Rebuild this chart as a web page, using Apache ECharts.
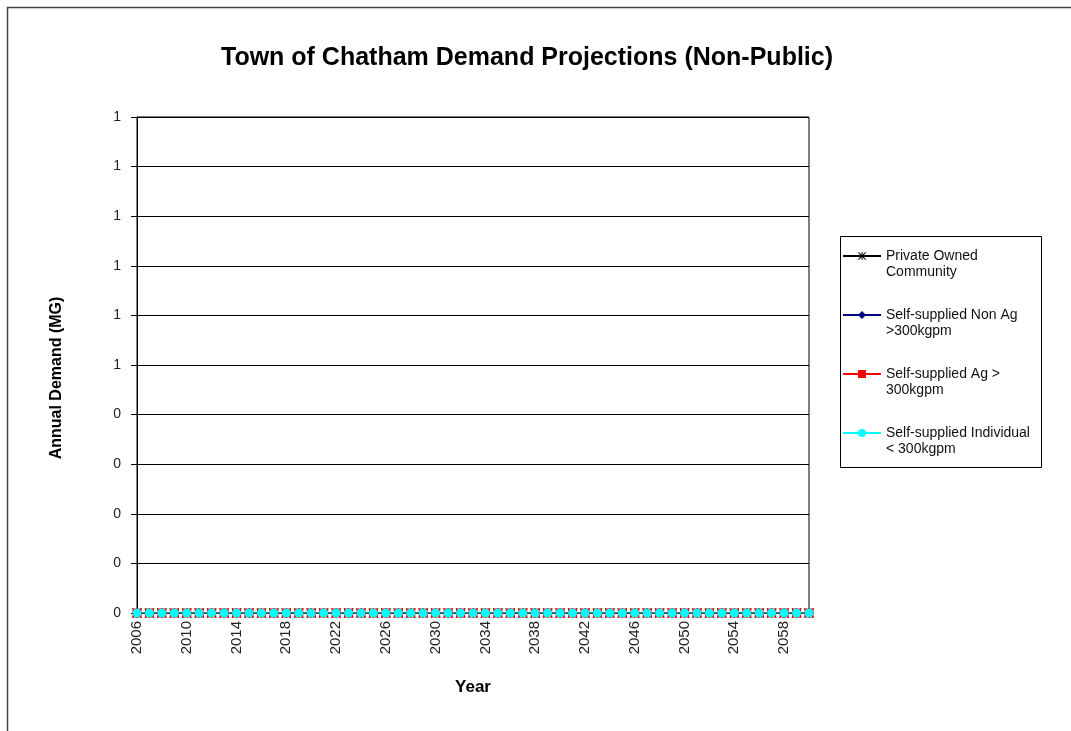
<!DOCTYPE html>
<html>
<head>
<meta charset="utf-8">
<script src="https://cdn.jsdelivr.net/npm/echarts@6/dist/echarts.min.js"></script>
<style>
html,body{margin:0;padding:0;background:#fff;}
#chart{width:1071px;height:731px;}
</style>
</head>
<body>
<div id="chart"></div>
<script>
const years = ['2006','2007','2008','2009','2010','2011','2012','2013','2014','2015','2016','2017','2018','2019','2020','2021','2022','2023','2024','2025','2026','2027','2028','2029','2030','2031','2032','2033','2034','2035','2036','2037','2038','2039','2040','2041','2042','2043','2044','2045','2046','2047','2048','2049','2050','2051','2052','2053','2054','2055','2056','2057','2058','2059','2060'];
const privateOwnedCommunity = [0,0,0,0,0,0,0,0,0,0,0,0,0,0,0,0,0,0,0,0,0,0,0,0,0,0,0,0,0,0,0,0,0,0,0,0,0,0,0,0,0,0,0,0,0,0,0,0,0,0,0,0,0,0,0];
const selfSuppliedNonAg = [0,0,0,0,0,0,0,0,0,0,0,0,0,0,0,0,0,0,0,0,0,0,0,0,0,0,0,0,0,0,0,0,0,0,0,0,0,0,0,0,0,0,0,0,0,0,0,0,0,0,0,0,0,0,0];
const selfSuppliedAg = [0,0,0,0,0,0,0,0,0,0,0,0,0,0,0,0,0,0,0,0,0,0,0,0,0,0,0,0,0,0,0,0,0,0,0,0,0,0,0,0,0,0,0,0,0,0,0,0,0,0,0,0,0,0,0];
const selfSuppliedIndividual = [0,0,0,0,0,0,0,0,0,0,0,0,0,0,0,0,0,0,0,0,0,0,0,0,0,0,0,0,0,0,0,0,0,0,0,0,0,0,0,0,0,0,0,0,0,0,0,0,0,0,0,0,0,0,0];
const seriesNames = ['Private Owned Community','Self-supplied Non Ag >300kgpm','Self-supplied Ag > 300kgpm','Self-supplied Individual < 300kgpm'];
const legendLabels = {
  'Private Owned Community': 'Private Owned\nCommunity',
  'Self-supplied Non Ag >300kgpm': 'Self-supplied Non Ag\n>300kgpm',
  'Self-supplied Ag > 300kgpm': 'Self-supplied Ag >\n300kgpm',
  'Self-supplied Individual < 300kgpm': 'Self-supplied Individual\n< 300kgpm'
};

const starPath = 'path://M4.4,0L5.6,0L5.6,10L4.4,10Z M0,0.8L0.8,0L10,9.2L9.2,10Z M9.2,0L10,0.8L0.8,10L0,9.2Z';

const chart = echarts.init(document.getElementById('chart'), null, {renderer:'canvas'});
const font = 'Arial, "Liberation Sans", Helvetica, sans-serif';
const option = {
  backgroundColor: '#fff',
  animation: false,
  textStyle: {fontFamily: font},
  title: {
    text: 'Town of Chatham Demand Projections (Non-Public)',
    left: 522, top: 41, textAlign: 'center',
    textStyle: {fontFamily: font, fontSize: 25, fontWeight: 'bold', color: '#000'}
  },
  graphic: [{
    type: 'rect', silent: true,
    shape: {x: 7.5, y: 7.5, width: 1200, height: 900},
    style: {fill: 'none', stroke: '#444', lineWidth: 1.5}
  }, {
    type: 'rect', silent: true,
    shape: {x: 840.5, y: 236.5, width: 201, height: 231},
    style: {fill: 'none', stroke: '#000', lineWidth: 1}
  }, {
    type: 'text', silent: true,
    x: 57, y: 378, rotation: Math.PI / 2,
    style: {text: 'Annual Demand (MG)', font: 'bold 16px ' + font, fill: '#000', align: 'center', verticalAlign: 'middle'}
  }],
  legend: {
    orient: 'vertical',
    left: 842, top: 232,
    data: seriesNames,
    formatter: function(n){ return '\n' + (legendLabels[n] || n); },
    padding: 0,
    itemWidth: 38, itemHeight: 10, itemGap: 11,
    textStyle: {fontFamily: font, fontSize: 14, color: '#111', lineHeight: 16}
  },
  grid: {left: 137, right: 262, top: 117, bottom: 118, show: true, borderColor: '#000', borderWidth: 1, containLabel: false},
  xAxis: {
    type: 'category',
    data: years,
    boundaryGap: false,
    name: 'Year', nameLocation: 'middle', nameGap: 66,
    nameTextStyle: {fontFamily: font, fontSize: 17, fontWeight: 'bold', color: '#000'},
    axisLine: {lineStyle: {color: '#000', width: 1}},
    axisTick: {show: false},
    axisLabel: {interval: 3, rotate: 90, margin: 8, fontFamily: font, fontSize: 15, color: '#222'},
    splitLine: {show: false}
  },
  yAxis: {
    type: 'value',
    min: 0, max: 1, interval: 0.1,
    axisLine: {show: true, lineStyle: {color: '#000', width: 1}},
    axisTick: {show: true, length: 6, lineStyle: {color: '#000'}},
    axisLabel: {margin: 16, fontFamily: font, fontSize: 14, color: '#222',
      formatter: function(v){ return String(Math.round(v)); }},
    splitLine: {show: true, lineStyle: {color: '#000', width: 1}}
  },
  series: [
    {name: seriesNames[0], type: 'line', data: privateOwnedCommunity, symbol: starPath, symbolSize: 10, showAllSymbol: true,
      lineStyle: {color: '#000', width: 1}, itemStyle: {color: '#000'}},
    {name: seriesNames[1], type: 'line', data: selfSuppliedNonAg, symbol: 'diamond', symbolSize: 10, showAllSymbol: true,
      lineStyle: {color: '#000080', width: 1}, itemStyle: {color: '#000080'}},
    {name: seriesNames[2], type: 'line', data: selfSuppliedAg, symbol: 'rect', symbolSize: 9, showAllSymbol: true,
      lineStyle: {color: '#FF0000', width: 1}, itemStyle: {color: '#FF0000'}},
    {name: seriesNames[3], type: 'line', data: selfSuppliedIndividual, symbol: 'circle', symbolSize: 9, showAllSymbol: true,
      lineStyle: {color: '#00FFFF', width: 1}, itemStyle: {color: '#00FFFF'}}
  ]
};
chart.setOption(option);
</script>
</body>
</html>
